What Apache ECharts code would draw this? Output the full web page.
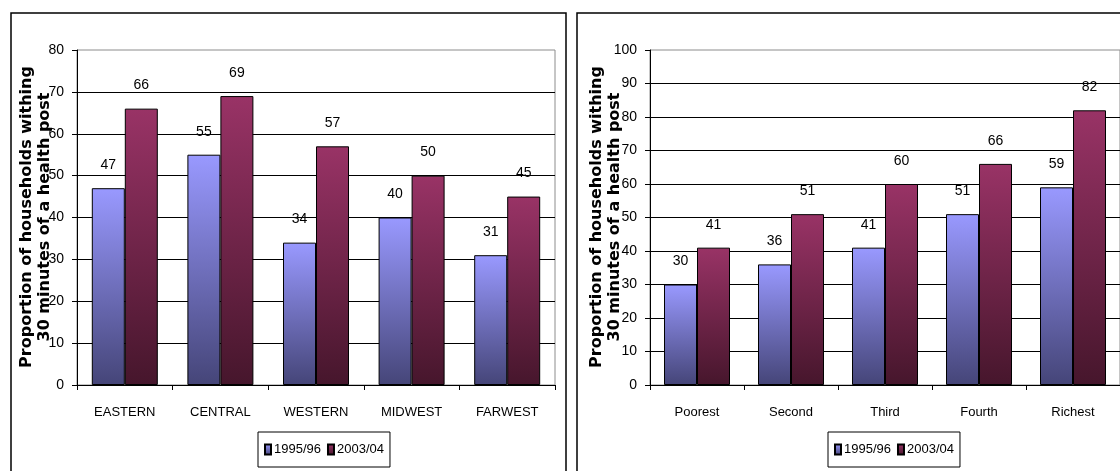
<!DOCTYPE html>
<html>
<head>
<meta charset="utf-8">
<script src="https://cdn.jsdelivr.net/npm/echarts@6/dist/echarts.min.js"></script>
<style>
  html, body { margin: 0; padding: 0; background: #fff; }
  #chart { width: 1120px; height: 471px; }
</style>
</head>
<body>
<div id="chart"></div>
<script>
// Access to a health post, by development region and by consumption quintile
const regions = ['EASTERN', 'CENTRAL', 'WESTERN', 'MIDWEST', 'FARWEST'];
const quintiles = ['Poorest', 'Second', 'Third', 'Fourth', 'Richest'];
const periods = ['1995/96', '2003/04'];
const regionValues1995 = [47, 55, 34, 40, 31];
const regionValues2003 = [66, 69, 57, 50, 45];
const quintileValues1995 = [30, 36, 41, 51, 59];
const quintileValues2003 = [41, 51, 60, 66, 82];
const regionTicks = { min: 0, max: 80, interval: 10 };
const quintileTicks = { min: 0, max: 100, interval: 10 };
const yTitle = 'Proportion of households withing\n30 minutes of a health post';

const SANS = "'Liberation Sans', Arial, sans-serif";

const blueFill = new echarts.graphic.LinearGradient(0, 0, 0, 1, [
  { offset: 0, color: '#9999ff' },
  { offset: 1, color: '#454578' }
]);
const redFill = new echarts.graphic.LinearGradient(0, 0, 0, 1, [
  { offset: 0, color: '#993366' },
  { offset: 1, color: '#46162c' }
]);

function xAxisFor(gridIndex, cats) {
  return {
    type: 'category', gridIndex, data: cats,
    axisLine: { lineStyle: { color: '#000', width: 1 } },
    axisTick: { show: true, length: 5, lineStyle: { color: '#000' } },
    axisLabel: { color: '#000', fontFamily: SANS, fontSize: 13, margin: 21 }
  };
}
function yAxisFor(gridIndex, ticks) {
  return {
    type: 'value', gridIndex, min: ticks.min, max: ticks.max, interval: ticks.interval,
    axisLine: { show: true, lineStyle: { color: '#000', width: 1 } },
    axisTick: { show: true, length: 5, lineStyle: { color: '#000' } },
    axisLabel: { color: '#000', fontFamily: SANS, fontSize: 14, margin: 13 },
    splitLine: { show: true, showMaxLine: false, lineStyle: { color: '#000', width: 1 } }
  };
}
function barSeries(name, xi, values, fill) {
  return {
    type: 'bar', name, xAxisIndex: xi, yAxisIndex: xi, data: values,
    barWidth: 33, barGap: '0%',
    itemStyle: { color: fill, borderColor: '#000', borderWidth: 1 },
    label: {
      show: true, position: 'top', distance: 16,
      color: '#000', fontFamily: SANS, fontSize: 14
    },
    emphasis: { disabled: true },
    animation: false
  };
}
function legendAt(left) {
  return {
    left, top: 432, orient: 'horizontal',
    data: periods,
    icon: 'rect', itemWidth: 6, itemHeight: 10, itemGap: 6,
    padding: [11, 6],
    borderColor: '#000', borderWidth: 1,
    textStyle: { color: '#000', fontFamily: SANS, fontSize: 13, padding: [0, 0, 0, -2] },
    selectedMode: false
  };
}
function titleText(cx, cy) {
  return {
    type: 'text', x: cx, y: cy, rotation: Math.PI / 2, silent: true,
    style: {
      text: yTitle, align: 'center', verticalAlign: 'middle',
      font: "bold 16px 'DejaVu Sans', sans-serif", lineHeight: 18, fill: '#000'
    }
  };
}

const chart = echarts.init(document.getElementById('chart'), null, { renderer: 'canvas' });
chart.setOption({
  animation: false,
  backgroundColor: '#fff',
  grid: [
    { left: 77, top: 50, width: 478, height: 335, show: true, borderColor: '#8c8c8c', borderWidth: 1, containLabel: false },
    { left: 650, top: 50, width: 472, height: 335, show: true, borderColor: '#8c8c8c', borderWidth: 1, containLabel: false }
  ],
  xAxis: [xAxisFor(0, regions), xAxisFor(1, quintiles)],
  yAxis: [yAxisFor(0, regionTicks), yAxisFor(1, quintileTicks)],
  legend: [legendAt(258), legendAt(828)],
  series: [
    barSeries(periods[0], 0, regionValues1995, blueFill),
    barSeries(periods[1], 0, regionValues2003, redFill),
    barSeries(periods[0], 1, quintileValues1995, blueFill),
    barSeries(periods[1], 1, quintileValues2003, redFill)
  ],
  graphic: [
    { type: 'rect', silent: true, z: 100, shape: { x: 11, y: 13, width: 555, height: 480 },
      style: { fill: 'none', stroke: '#000', lineWidth: 1.5 } },
    { type: 'rect', silent: true, z: 100, shape: { x: 577, y: 13, width: 600, height: 480 },
      style: { fill: 'none', stroke: '#000', lineWidth: 1.5 } },
    titleText(36, 217),
    titleText(606, 217)
  ]
});
</script>
</body>
</html>
